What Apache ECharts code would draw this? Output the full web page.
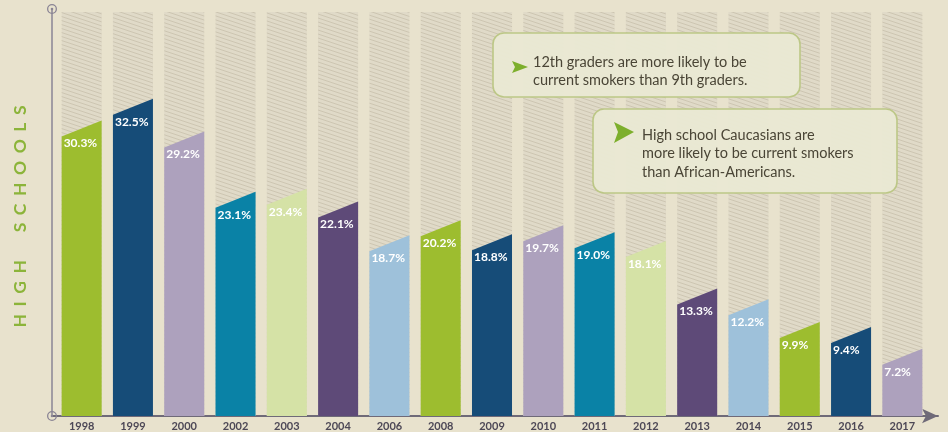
<!DOCTYPE html>
<html>
<head>
<meta charset="utf-8">
<script src="https://cdn.jsdelivr.net/npm/echarts@6/dist/echarts.min.js"></script>
<style>
  html, body { margin: 0; padding: 0; background: #e8e2cd; }
  #chart { width: 948px; height: 432px; }
</style>
</head>
<body>
<div id="chart"></div>
<script>
// Current smoking among high school students, by survey year (%)
const years = ['1998', '1999', '2000', '2002', '2003', '2004', '2006', '2008', '2009',
               '2010', '2011', '2012', '2013', '2014', '2015', '2016', '2017'];
const rates = [30.3, 32.5, 29.2, 23.1, 23.4, 22.1, 18.7, 20.2, 18.8,
               19.7, 19.0, 18.1, 13.3, 12.2, 9.9, 9.4, 7.2];

const notes = [
  ['12th graders are more likely to be', 'current smokers than 9th graders.'],
  ['High school Caucasians are', 'more likely to be current smokers', 'than African-Americans.']
];

// Visual settings
const palette = ['#9dbd2f', '#164c78', '#ada1bd', '#0a82a6', '#d5e2a6', '#5e4a78', '#9ec1da'];
const Y_MIN = 1.2;
const Y_MAX = 42.1;
const BAR_RATIO = 0.78;
const SLANT = 8;

// Diagonal hatching used for the full-height bar backdrops
function hatchPattern() {
  const c = document.createElement('canvas');
  c.width = 12; c.height = 4;
  const ctx = c.getContext('2d');
  ctx.fillStyle = '#e0dac8';
  ctx.fillRect(0, 0, 12, 4);
  ctx.strokeStyle = '#cdc5b1';
  ctx.lineWidth = 1;
  for (let k = -1; k <= 1; k++) {
    ctx.beginPath();
    ctx.moveTo(0, k * 4);
    ctx.lineTo(12, 4 + k * 4);
    ctx.stroke();
  }
  return c;
}
const hatchCanvas = hatchPattern();

// Ring with a centre dot for the ends of the vertical axis
const ringSymbol = 'path://M0,-5A5,5 0 1,1 0,5A5,5 0 1,1 0,-5ZM0,-3.7A3.7,3.7 0 1,0 0,3.7A3.7,3.7 0 1,0 0,-3.7ZM0,-1.3A1.3,1.3 0 1,1 0,1.3A1.3,1.3 0 1,1 0,-1.3Z';

const chart = echarts.init(document.getElementById('chart'));

function backdropItem(params, api) {
  const i = api.value(0);
  const top = api.coord([i, api.value(1)]);
  const cs = params.coordSys;
  const bottom = cs.y + cs.height;
  const w = api.size([1, 0])[0] * BAR_RATIO;
  return {
    type: 'rect',
    shape: { x: top[0] - w / 2, y: top[1], width: w, height: bottom - top[1] },
    style: { fill: { image: hatchCanvas, repeat: 'repeat' } }
  };
}

function barItem(params, api) {
  const i = api.value(0);
  const v = api.value(1);
  const top = api.coord([i, v]);
  const cs = params.coordSys;
  const bottom = cs.y + cs.height;
  const w = api.size([1, 0])[0] * BAR_RATIO;
  const x0 = top[0] - w / 2, x1 = top[0] + w / 2;
  return {
    type: 'group',
    children: [
      {
        type: 'polygon',
        shape: { points: [[x0, bottom], [x0, top[1] + SLANT], [x1, top[1] - SLANT], [x1, bottom]] },
        style: { fill: palette[i % palette.length] }
      },
      {
        type: 'text',
        x: x0 + 2,
        y: top[1] + SLANT + 1,
        style: {
          text: v.toFixed(1) + '%',
          fill: '#ffffff',
          font: 'bold 12px Lato',
          verticalAlign: 'top',
          align: 'left'
        }
      }
    ]
  };
}

function noteBox(x, y, w, h, lines, tx, ty, arrow) {
  const children = [
    {
      type: 'rect', z: 100,
      shape: { x: x, y: y, width: w, height: h, r: 11 },
      style: { fill: 'rgba(233,232,211,0.97)', stroke: '#bcc786', lineWidth: 1.6 }
    },
    {
      type: 'polygon', z: 101,
      shape: { points: arrow },
      style: { fill: '#7daf2c' }
    }
  ];
  lines.forEach((line, k) => {
    children.push({
      type: 'text', z: 101,
      x: tx, y: ty + k * 18.5,
      style: { text: line, fill: '#4a4536', font: '14.5px Lato', verticalAlign: 'middle' }
    });
  });
  return { type: 'group', z: 100, children: children };
}

// Letter-spaced axis title
const axisTitle = 'HIGH SCHOOLS'.split('').map(ch => ch === ' ' ? '   ' : ch).join('\u2009\u200a ');

chart.setOption({
  backgroundColor: '#e8e2cd',
  animation: false,
  grid: [
    { left: 56, right: 20, top: 12, bottom: 16 },
    { left: 52, right: 10, top: 9, bottom: 16 }
  ],
  xAxis: [
    {
      type: 'category', gridIndex: 0, data: years,
      axisLine: { show: false }, axisTick: { show: false },
      axisLabel: { color: '#4d4856', fontFamily: 'Lato', fontWeight: 'bold', fontSize: 11, margin: 5 }
    },
    {
      type: 'value', gridIndex: 1, min: 0, max: 1,
      axisLine: { show: true, symbol: ['none', 'arrow'], symbolSize: [11, 16],
                  lineStyle: { color: '#6f6a78', width: 2 } },
      axisTick: { show: false }, axisLabel: { show: false }, splitLine: { show: false }
    }
  ],
  yAxis: [
    { type: 'value', gridIndex: 0, min: Y_MIN, max: Y_MAX, show: false },
    {
      type: 'value', gridIndex: 1, min: 0, max: 1,
      axisLine: { show: true, symbol: [ringSymbol, ringSymbol], symbolSize: [10, 10],
                  lineStyle: { color: '#8a8494', width: 1.5 } },
      axisTick: { show: false }, axisLabel: { show: false }, splitLine: { show: false },
      name: axisTitle,
      nameLocation: 'middle', nameRotate: 90, nameGap: 23,
      nameTextStyle: { color: '#8cb43a', fontFamily: 'Lato', fontWeight: 'bold', fontSize: 17.5,
                       padding: [0, 8, 0, 0] }
    }
  ],
  series: [
    {
      type: 'custom', xAxisIndex: 0, yAxisIndex: 0, silent: true, z: 1,
      renderItem: backdropItem,
      data: years.map((y, i) => [i, Y_MAX])
    },
    {
      type: 'custom', xAxisIndex: 0, yAxisIndex: 0, z: 2,
      renderItem: barItem,
      data: rates.map((v, i) => [i, v])
    }
  ],
  graphic: [
    noteBox(493, 33, 307, 64, notes[0], 533, 62, [[512, 61], [528, 67], [512, 73], [515, 67]]),
    noteBox(593, 109, 304, 84, notes[1], 642, 135, [[614, 122], [634, 132], [614, 143], [618, 132]])
  ]
});
</script>
</body>
</html>
